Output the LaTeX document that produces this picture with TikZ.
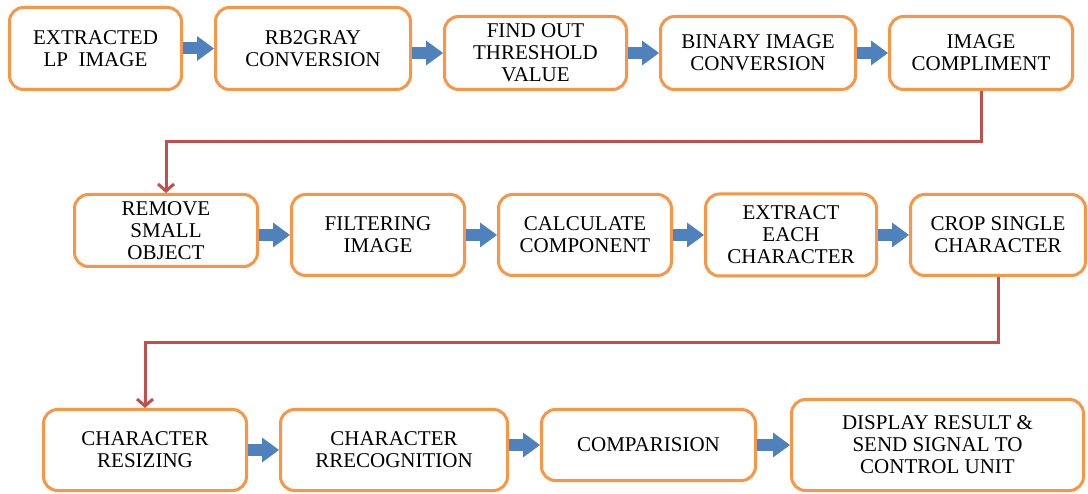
\documentclass[tikz,border=0pt]{standalone}
\usepackage{fontspec}
\setmainfont{Liberation Serif}
\usetikzlibrary{positioning,calc,arrows.meta}
\definecolor{boxorange}{HTML}{F79646}
\definecolor{arrowblue}{HTML}{4F81BD}
\definecolor{linkred}{HTML}{C0504D}

\begin{document}
\begin{tikzpicture}[x=1pt, y=-1pt, node distance=31pt,
  stage/.style={draw=boxorange, line width=3pt, rounded corners=14pt, fill=white, align=center, inner sep=2pt, font=\fontsize{21}{22}\selectfont},
  flow/.style={draw=arrowblue, line width=12pt, -{Triangle[width=25pt,length=17pt,line width=0pt]}},
  jump/.style={draw=linkred, line width=3pt, -{Straight Barb[length=7pt,width=16pt]}}]
  \useasboundingbox (0,0) rectangle (1088,494);
  \node[stage, minimum width=172pt, minimum height=82pt] (extract) at (95.5,48.5) {EXTRACTED\\LP\ \ IMAGE};
  \node[stage, minimum width=195pt, minimum height=82pt] (gray) [right=of extract] {RB2GRAY\\CONVERSION};
  \node[stage, minimum width=182pt, minimum height=73pt] (thresh) [right=of gray, yshift=-4.5pt] {FIND OUT\\THRESHOLD\\VALUE};
  \node[stage, minimum width=195pt, minimum height=73pt] (binary) [right=of thresh] {BINARY IMAGE\\CONVERSION};
  \node[stage, minimum width=183pt, minimum height=73pt] (compl) [right=of binary] {IMAGE\\COMPLIMENT};
  \node[stage, minimum width=183pt, minimum height=72pt] (remove) at (166,230.5) {REMOVE\\SMALL\\OBJECT};
  \node[stage, minimum width=173pt, minimum height=81pt] (filter) [right=of remove, yshift=-4.5pt] {FILTERING\\IMAGE};
  \node[stage, minimum width=173pt, minimum height=81pt] (calc) [right=of filter] {CALCULATE\\COMPONENT};
  \node[stage, minimum width=171pt, minimum height=82pt] (each) [right=of calc] {EXTRACT\\EACH\\CHARACTER};
  \node[stage, minimum width=175pt, minimum height=81pt] (crop) [right=of each] {CROP SINGLE\\CHARACTER};
  \node[stage, minimum width=203pt, minimum height=81pt] (resize) at (145,450) {CHARACTER\\RESIZING};
  \node[stage, minimum width=227pt, minimum height=81pt] (recog) [right=of resize] {CHARACTER\\RRECOGNITION};
  \node[stage, minimum width=214pt, minimum height=71pt] (compare) [right=of recog, yshift=5pt] {COMPARISION};
  \node[stage, minimum width=292pt, minimum height=91pt] (display) [right=33pt of compare] {DISPLAY RESULT \&\\SEND SIGNAL TO\\CONTROL UNIT};
  \draw[flow] (extract.east) -- (gray.west);
  \draw[flow] (gray.east |- thresh.west) -- (thresh.west);
  \draw[flow] (thresh.east) -- (binary.west);
  \draw[flow] (binary.east) -- (compl.west);
  \draw[flow] (remove.east |- filter.west) -- (filter.west);
  \draw[flow] (filter.east) -- (calc.west);
  \draw[flow] (calc.east) -- (each.west);
  \draw[flow] (each.east) -- (crop.west);
  \draw[flow] (resize.east) -- (recog.west);
  \draw[flow] (recog.east |- compare.west) -- (compare.west);
  \draw[flow] (compare.east) -- (display.west);
  \draw[jump] (compl.south) |- ($(compl.south)!0.5!(remove.north)$) -| (remove.north);
  \draw[jump] (crop.south) |- ($(crop.south)!0.5!(resize.north)$) -| (resize.north);
\end{tikzpicture}
\end{document}
